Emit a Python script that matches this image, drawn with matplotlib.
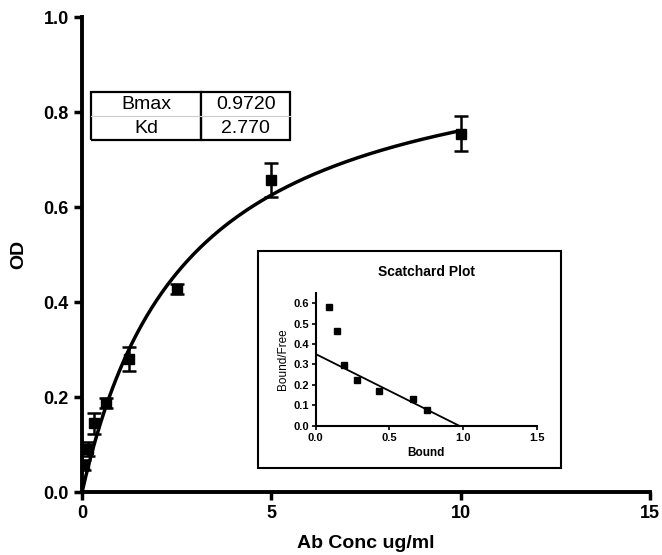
import matplotlib
matplotlib.use('Agg')
import matplotlib.pyplot as plt
from matplotlib.patches import Rectangle
import numpy as np

plt.rcParams['font.family'] = ['Liberation Sans', 'DejaVu Sans']
plt.rcParams['font.weight'] = 'bold'

# binding data
conc = [0.039, 0.156, 0.3125, 0.625, 1.25, 2.5, 5.0, 10.0]
od = [0.057, 0.090, 0.145, 0.187, 0.280, 0.428, 0.657, 0.755]
od_err = [0.010, 0.015, 0.022, 0.010, 0.025, 0.010, 0.035, 0.037]

bmax = 0.9720
kd = 2.770

# scatchard data
bound = [0.09, 0.145, 0.19, 0.28, 0.43, 0.66, 0.755]
bound_free = [0.58, 0.463, 0.295, 0.222, 0.170, 0.130, 0.075]

fig = plt.figure(figsize=(6.62, 5.55), dpi=100)
ax = fig.add_axes([0.124, 0.1135, 0.858, 0.8555])

xs = np.linspace(0, 10, 300)
ax.plot(xs, bmax * xs / (kd + xs), color='black', lw=2.5, zorder=3)
ax.errorbar(conc, od, yerr=od_err, fmt='s', color='black', ms=7,
            capsize=5, elinewidth=1.8, capthick=1.8, zorder=4)

ax.set_xlim(0, 15)
ax.set_ylim(0, 1.0)
ax.set_xticks([0, 5, 10, 15])
ax.set_yticks([0, 0.2, 0.4, 0.6, 0.8, 1.0])
ax.set_yticklabels(['0.0', '0.2', '0.4', '0.6', '0.8', '1.0'])
for s in ['top', 'right']:
    ax.spines[s].set_visible(False)
for s in ['left', 'bottom']:
    ax.spines[s].set_linewidth(2.8)
ax.tick_params(width=2.5, length=6, labelsize=13, direction='out')
for lab in ax.get_xticklabels() + ax.get_yticklabels():
    lab.set_fontweight('bold')
ax.set_xlabel('Ab Conc ug/ml', fontsize=14, fontweight='bold', labelpad=9)
ax.set_ylabel('OD', fontsize=14, fontweight='bold', labelpad=12)

# parameter table
tbl = ax.table(cellText=[['Bmax', '%.4f' % bmax], ['Kd', '%.3f' % kd]],
               colWidths=[0.191, 0.154], cellLoc='center',
               bbox=[(91 - 82) / 568, (492 - 140) / 475, (290 - 91) / 568, 48 / 475])
tbl.auto_set_font_size(False)
for (r, c), cell in tbl.get_celld().items():
    cell.set_linewidth(1.6)
    cell.get_text().set_fontsize(14)
    cell.get_text().set_fontweight('normal')
    if r == 0:
        cell.visible_edges = 'LTR'
    else:
        cell.visible_edges = 'LBR'
ax.plot([9 / 568 * 15, 208 / 568 * 15], [0.792, 0.792],
        color='#cccccc', lw=0.8, zorder=5, clip_on=False)

# inset frame
fig.patches.append(Rectangle((0.39, 0.157), 0.458, 0.391, transform=fig.transFigure,
                             fill=True, facecolor='white', edgecolor='black', lw=1.5, zorder=1))

ins = fig.add_axes([0.477, 0.233, 0.334, 0.239])
ins.set_zorder(2)
ins.patch.set_alpha(0)
ins.plot(bound, bound_free, 's', color='black', ms=5)
bx = np.array([0, bmax])
ins.plot(bx, bmax / kd - bx / kd, color='black', lw=1.3)
ins.set_xlim(0, 1.5)
ins.set_ylim(0, 0.65)
ins.set_xticks([0, 0.5, 1.0, 1.5])
ins.set_xticklabels(['0.0', '0.5', '1.0', '1.5'])
ins.set_yticks([0, 0.1, 0.2, 0.3, 0.4, 0.5, 0.6])
ins.set_yticklabels(['0.0', '0.1', '0.2', '0.3', '0.4', '0.5', '0.6'])
for s in ['top', 'right']:
    ins.spines[s].set_visible(False)
for s in ['left', 'bottom']:
    ins.spines[s].set_linewidth(1.5)
ins.tick_params(width=1.2, length=3, labelsize=8, pad=2)
for lab in ins.get_xticklabels() + ins.get_yticklabels():
    lab.set_fontweight('bold')
ins.set_xlabel('Bound', fontsize=8.5, fontweight='bold', labelpad=3)
ins.set_ylabel('Bound/Free', fontsize=8.5, fontweight='normal', labelpad=3)
ins.set_title('Scatchard Plot', fontsize=10, fontweight='bold', pad=12)

fig.savefig('out.png', dpi=100)
